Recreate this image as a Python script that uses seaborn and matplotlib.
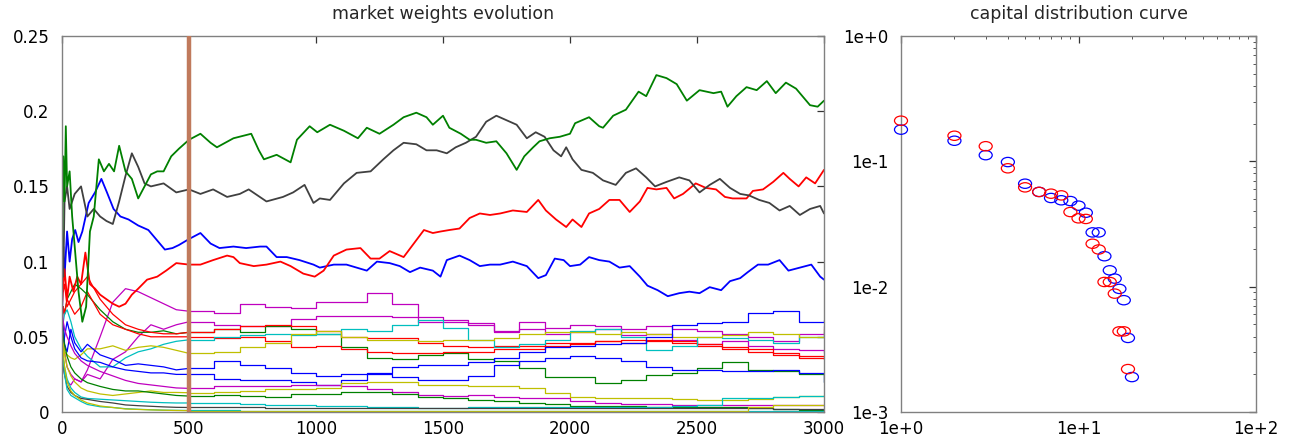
import numpy as np
import pandas as pd
import matplotlib
matplotlib.use("Agg")
import matplotlib.pyplot as plt
import seaborn as sns
from matplotlib.path import Path
from matplotlib.markers import MarkerStyle
from matplotlib.transforms import Affine2D
from matplotlib.ticker import FixedLocator, FixedFormatter, LogLocator, NullFormatter

# ---------------- data ----------------
title_left = "market weights evolution"
title_right = "capital distribution curve"
t_snapshot = 500

x_ticks = [0, 500, 1000, 1500, 2000, 2500, 3000]
x_labels = ["0", "500", "1000", "1500", "2000", "2500", "3000"]
y_ticks = [0, 0.05, 0.1, 0.15, 0.2, 0.25]
y_labels = ["0", "0.05", "0.1", "0.15", "0.2", "0.25"]
log_x_ticks = [1, 10, 100]
log_x_labels = ["1e+0", "1e+1", "1e+2"]
log_y_ticks = [1e-3, 1e-2, 1e-1, 1]
log_y_labels = ["1e-3", "1e-2", "1e-1", "1e+0"]

# four largest stocks (finely sampled)
t_green = [0, 5, 10, 15, 20, 30, 40, 50, 65, 80, 95, 110, 125, 145, 165, 185, 205, 225, 250, 275,
           300, 325, 350, 375, 400, 430, 460, 500, 545, 585, 610, 675, 745, 775, 795, 845, 900, 925, 975, 1005,
           1055, 1110, 1165, 1200, 1250, 1305, 1345, 1395, 1435, 1460, 1500, 1525, 1570, 1605, 1630, 1670, 1710, 1750, 1790, 1820,
           1855, 1880, 1920, 1960, 2000, 2020, 2075, 2115, 2130, 2170, 2220, 2270, 2300, 2340, 2380, 2420, 2460, 2510, 2565, 2595,
           2620, 2655, 2695, 2735, 2775, 2810, 2850, 2890, 2945, 2975, 3000]
w_green = [0.10, 0.17, 0.14, 0.19, 0.15, 0.16, 0.13, 0.11, 0.08, 0.06, 0.07, 0.12, 0.13, 0.168, 0.16, 0.165, 0.16, 0.177, 0.16, 0.155,
           0.142, 0.15, 0.158, 0.16, 0.16, 0.17, 0.175, 0.181, 0.185, 0.179, 0.176, 0.182, 0.185, 0.174, 0.168, 0.171, 0.166, 0.181, 0.19, 0.186,
           0.191, 0.187, 0.182, 0.189, 0.185, 0.191, 0.196, 0.199, 0.196, 0.191, 0.197, 0.189, 0.185, 0.181, 0.181, 0.179, 0.18, 0.172, 0.161, 0.17,
           0.176, 0.18, 0.182, 0.183, 0.185, 0.192, 0.196, 0.19, 0.189, 0.197, 0.201, 0.213, 0.21, 0.224, 0.222, 0.218, 0.207, 0.214, 0.212, 0.213,
           0.203, 0.21, 0.216, 0.214, 0.22, 0.212, 0.219, 0.215, 0.204, 0.203, 0.207]

t_black = [0, 5, 10, 20, 30, 50, 75, 100, 125, 150, 175, 200, 225, 250, 275, 300, 325, 350, 400, 450,
           500, 545, 595, 650, 700, 735, 805, 870, 910, 955, 990, 1015, 1055, 1110, 1160, 1215, 1265, 1305, 1345, 1395,
           1435, 1475, 1515, 1550, 1590, 1630, 1670, 1710, 1750, 1790, 1830, 1865, 1900, 1935, 1965, 1985, 2010, 2045, 2090, 2130,
           2180, 2220, 2260, 2300, 2335, 2380, 2430, 2470, 2510, 2550, 2590, 2630, 2670, 2705, 2745, 2785, 2825, 2865, 2905, 2945,
           2985, 3000]
w_black = [0.10, 0.09, 0.14, 0.15, 0.135, 0.145, 0.15, 0.13, 0.135, 0.13, 0.127, 0.125, 0.14, 0.157, 0.172, 0.163, 0.152, 0.15, 0.152, 0.146,
           0.148, 0.145, 0.148, 0.143, 0.145, 0.148, 0.14, 0.143, 0.146, 0.151, 0.139, 0.142, 0.141, 0.152, 0.159, 0.16, 0.168, 0.174, 0.179, 0.178,
           0.174, 0.174, 0.172, 0.176, 0.179, 0.183, 0.193, 0.197, 0.194, 0.191, 0.182, 0.186, 0.183, 0.174, 0.17, 0.176, 0.168, 0.161, 0.159, 0.154,
           0.151, 0.159, 0.162, 0.156, 0.15, 0.153, 0.156, 0.154, 0.146, 0.151, 0.155, 0.149, 0.145, 0.144, 0.141, 0.139, 0.134, 0.137, 0.131, 0.135,
           0.137, 0.132]

t_red = [0, 5, 10, 20, 30, 45, 60, 75, 92, 110, 130, 150, 175, 200, 225, 250, 275, 300, 335, 375,
         410, 450, 500, 545, 595, 650, 675, 700, 755, 805, 860, 900, 950, 995, 1030, 1070, 1120, 1175, 1215, 1250,
         1290, 1345, 1385, 1425, 1460, 1490, 1525, 1565, 1605, 1645, 1685, 1725, 1775, 1830, 1875, 1905, 1945, 1985, 2010, 2045,
         2075, 2115, 2155, 2195, 2235, 2275, 2305, 2340, 2380, 2410, 2445, 2495, 2535, 2575, 2610, 2640, 2695, 2720, 2760, 2800,
         2840, 2865, 2900, 2930, 2965, 3000]
w_red = [0.07, 0.085, 0.095, 0.075, 0.09, 0.08, 0.09, 0.085, 0.106, 0.085, 0.082, 0.078, 0.075, 0.072, 0.07, 0.072, 0.078, 0.082, 0.088, 0.09,
         0.094, 0.099, 0.098, 0.098, 0.101, 0.104, 0.103, 0.099, 0.097, 0.098, 0.1, 0.097, 0.092, 0.09, 0.094, 0.104, 0.108, 0.109, 0.102, 0.102,
         0.107, 0.103, 0.112, 0.121, 0.119, 0.12, 0.121, 0.122, 0.129, 0.132, 0.131, 0.132, 0.134, 0.133, 0.141, 0.134, 0.128, 0.123, 0.128, 0.123,
         0.132, 0.135, 0.141, 0.141, 0.133, 0.14, 0.149, 0.148, 0.149, 0.142, 0.145, 0.152, 0.149, 0.148, 0.143, 0.142, 0.142, 0.147, 0.148, 0.153,
         0.159, 0.155, 0.15, 0.156, 0.152, 0.161]

t_blue = [0, 5, 10, 20, 30, 40, 52, 65, 80, 105, 130, 155, 177, 203, 230, 262, 300, 340, 380, 405,
          435, 460, 490, 500, 545, 585, 620, 675, 725, 780, 805, 845, 885, 935, 990, 1015, 1070, 1120, 1160, 1200,
          1240, 1290, 1330, 1370, 1410, 1460, 1490, 1515, 1565, 1605, 1645, 1685, 1725, 1775, 1830, 1875, 1905, 1940, 1975, 2000,
          2040, 2075, 2115, 2155, 2195, 2235, 2275, 2305, 2345, 2385, 2430, 2470, 2510, 2550, 2595, 2630, 2670, 2700, 2740, 2780,
          2825, 2860, 2905, 2950, 2985, 3000]
w_blue = [0.06, 0.11, 0.09, 0.12, 0.1, 0.115, 0.121, 0.113, 0.12, 0.139, 0.146, 0.155, 0.146, 0.135, 0.13, 0.128, 0.124, 0.121, 0.113, 0.108,
          0.109, 0.111, 0.114, 0.115, 0.119, 0.112, 0.109, 0.11, 0.109, 0.11, 0.11, 0.103, 0.103, 0.101, 0.098, 0.096, 0.098, 0.098, 0.096, 0.094,
          0.1, 0.099, 0.097, 0.093, 0.096, 0.094, 0.09, 0.101, 0.104, 0.101, 0.097, 0.098, 0.098, 0.1, 0.097, 0.089, 0.091, 0.102, 0.101, 0.097,
          0.098, 0.103, 0.101, 0.1, 0.096, 0.097, 0.09, 0.084, 0.081, 0.077, 0.079, 0.08, 0.079, 0.083, 0.081, 0.087, 0.089, 0.093, 0.098, 0.098,
          0.101, 0.094, 0.096, 0.098, 0.09, 0.088]

# sixteen smaller stocks, read on a coarser grid
t_low = [0, 5, 10, 20, 35, 50, 75, 100, 150, 200, 250, 300, 350, 400, 450, 500,
         600, 700, 800, 900, 1000, 1100, 1200, 1300, 1400, 1500, 1600, 1700, 1800, 1900,
         2000, 2100, 2200, 2300, 2400, 2500, 2600, 2700, 2800, 2900, 3000]
w_mag1 = [0.04, 0.03, 0.025, 0.02, 0.018, 0.022, 0.02, 0.028, 0.05, 0.073, 0.082, 0.08, 0.076, 0.072, 0.068, 0.067,
          0.066, 0.072, 0.070, 0.069, 0.073, 0.073, 0.079, 0.072, 0.063, 0.061, 0.059, 0.054, 0.060, 0.056, 0.058, 0.057, 0.055, 0.057, 0.055, 0.054, 0.052, 0.050, 0.047, 0.052, 0.057]
w_mag2 = [0.06, 0.05, 0.04, 0.03, 0.025, 0.022, 0.02, 0.025, 0.022, 0.035, 0.04, 0.05, 0.058, 0.055, 0.058, 0.060,
          0.058, 0.057, 0.057, 0.062, 0.064, 0.064, 0.064, 0.063, 0.060, 0.060, 0.058, 0.053, 0.055, 0.052, 0.053, 0.055, 0.051, 0.052, 0.048, 0.045, 0.047, 0.044, 0.042, 0.041, 0.039]
w_grn2 = [0.06, 0.07, 0.065, 0.075, 0.08, 0.085, 0.082, 0.078, 0.068, 0.06, 0.055, 0.053, 0.053, 0.054, 0.052, 0.053,
          0.055, 0.053, 0.057, 0.055, 0.052, 0.043, 0.036, 0.035, 0.038, 0.039, 0.035, 0.034, 0.029, 0.0235, 0.0235, 0.019, 0.021, 0.0245, 0.026, 0.029, 0.0335, 0.028, 0.027, 0.025, 0.020]
w_red2 = [0.09, 0.08, 0.085, 0.07, 0.075, 0.08, 0.085, 0.09, 0.075, 0.065, 0.058, 0.055, 0.053, 0.052, 0.052, 0.053,
          0.055, 0.057, 0.058, 0.057, 0.054, 0.050, 0.049, 0.049, 0.046, 0.044, 0.043, 0.044, 0.044, 0.046, 0.045, 0.047, 0.048, 0.047, 0.047, 0.044, 0.042, 0.040, 0.039, 0.037, 0.035]
w_red3 = [0.06, 0.07, 0.065, 0.075, 0.07, 0.065, 0.07, 0.08, 0.065, 0.058, 0.055, 0.052, 0.05, 0.05, 0.05, 0.050,
          0.049, 0.050, 0.047, 0.043, 0.044, 0.042, 0.040, 0.039, 0.039, 0.040, 0.040, 0.042, 0.042, 0.044, 0.046, 0.047, 0.046, 0.048, 0.046, 0.045, 0.043, 0.042, 0.038, 0.036, 0.035]
w_cyan1 = [0.05, 0.06, 0.065, 0.068, 0.06, 0.05, 0.042, 0.037, 0.03, 0.03, 0.036, 0.04, 0.042, 0.045, 0.047, 0.048,
           0.050, 0.051, 0.052, 0.051, 0.052, 0.055, 0.054, 0.058, 0.061, 0.056, 0.048, 0.043, 0.045, 0.048, 0.054, 0.055, 0.050, 0.041, 0.044, 0.050, 0.049, 0.048, 0.046, 0.050, 0.053]
w_yel1 = [0.05, 0.045, 0.04, 0.038, 0.036, 0.035, 0.038, 0.042, 0.042, 0.044, 0.041, 0.043, 0.044, 0.043, 0.041, 0.039,
          0.040, 0.043, 0.046, 0.052, 0.054, 0.050, 0.048, 0.048, 0.047, 0.048, 0.048, 0.049, 0.052, 0.053, 0.053, 0.052, 0.053, 0.052, 0.050, 0.050, 0.051, 0.053, 0.052, 0.050, 0.055]
w_blue2 = [0.05, 0.06, 0.045, 0.04, 0.055, 0.046, 0.04, 0.045, 0.038, 0.035, 0.031, 0.032, 0.031, 0.03, 0.028, 0.029,
           0.034, 0.031, 0.029, 0.026, 0.024, 0.025, 0.026, 0.030, 0.031, 0.031, 0.033, 0.036, 0.040, 0.043, 0.044, 0.045, 0.046, 0.050, 0.058, 0.059, 0.060, 0.066, 0.067, 0.060, 0.061]
w_blue3 = [0.03, 0.045, 0.05, 0.06, 0.05, 0.042, 0.036, 0.034, 0.033, 0.03, 0.028, 0.027, 0.026, 0.026, 0.025, 0.025,
           0.022, 0.021, 0.021, 0.020, 0.018, 0.021, 0.025, 0.023, 0.021, 0.021, 0.024, 0.031, 0.034, 0.036, 0.037, 0.036, 0.034, 0.030, 0.028, 0.028, 0.027, 0.027, 0.028, 0.026, 0.020]
w_mag3 = [0.07, 0.06, 0.055, 0.05, 0.044, 0.039, 0.034, 0.031, 0.027, 0.024, 0.021, 0.019, 0.018, 0.017, 0.016, 0.0157,
          0.017, 0.017, 0.017, 0.018, 0.018, 0.017, 0.015, 0.013, 0.011, 0.0105, 0.011, 0.010, 0.009, 0.009, 0.007, 0.006, 0.005, 0.005, 0.0045, 0.0045, 0.0045, 0.0044, 0.0044, 0.0044, 0.0044]
w_yel2 = [0.05, 0.045, 0.039, 0.03, 0.024, 0.02, 0.016, 0.014, 0.012, 0.011, 0.012, 0.013, 0.014, 0.013, 0.013, 0.0128,
          0.013, 0.014, 0.015, 0.015, 0.016, 0.019, 0.020, 0.020, 0.018, 0.018, 0.017, 0.017, 0.016, 0.0125, 0.010, 0.0095, 0.009, 0.009, 0.0085, 0.008, 0.008, 0.0085, 0.010, 0.0105, 0.0113]
w_grn3 = [0.06, 0.05, 0.045, 0.037, 0.03, 0.026, 0.022, 0.0195, 0.017, 0.015, 0.014, 0.014, 0.013, 0.012, 0.011, 0.0106,
          0.011, 0.0105, 0.010, 0.012, 0.012, 0.013, 0.013, 0.012, 0.010, 0.009, 0.008, 0.007, 0.006, 0.005, 0.004, 0.004, 0.004, 0.0035, 0.003, 0.003, 0.003, 0.0025, 0.002, 0.0015, 0.0013]
w_cyan2 = [0.04, 0.035, 0.03, 0.022, 0.016, 0.013, 0.01, 0.009, 0.0085, 0.008, 0.0075, 0.007, 0.0065, 0.0062, 0.006, 0.006,
           0.0058, 0.005, 0.0047, 0.0045, 0.004, 0.004, 0.0035, 0.003, 0.0028, 0.0028, 0.003, 0.003, 0.003, 0.0033, 0.0035, 0.0035, 0.0035, 0.0035, 0.004, 0.0045, 0.009, 0.0095, 0.010, 0.0105, 0.0106]
w_gray2 = [0.035, 0.03, 0.025, 0.017, 0.013, 0.011, 0.009, 0.0084, 0.007, 0.006, 0.0047, 0.0042, 0.0038, 0.0034, 0.0031, 0.003,
           0.003, 0.003, 0.0029, 0.0029, 0.0028, 0.0028, 0.0028, 0.0027, 0.0027, 0.0027, 0.0026, 0.0026, 0.0026, 0.0026, 0.0025, 0.0025, 0.0025, 0.0025, 0.0024, 0.0024, 0.0024, 0.0024, 0.0023, 0.0023, 0.0022]
w_cyan3 = [0.045, 0.035, 0.025, 0.015, 0.011, 0.0095, 0.007, 0.005, 0.0035, 0.003, 0.0022, 0.0018, 0.0015, 0.0012, 0.0011, 0.001,
           0.001, 0.0009, 0.0009, 0.0008, 0.0008, 0.0008, 0.0007, 0.0007, 0.0007, 0.0006, 0.0006, 0.0006, 0.0006, 0.0005, 0.0005, 0.0005, 0.0005, 0.0005, 0.0004, 0.0004, 0.0004, 0.0004, 0.0004, 0.0004, 0.0004]
w_yel3 = [0.05, 0.04, 0.03, 0.02, 0.014, 0.011, 0.008, 0.006, 0.004, 0.003, 0.002, 0.0017, 0.0014, 0.0012, 0.001, 0.0009,
          0.0009, 0.0008, 0.0008, 0.0008, 0.0007, 0.0007, 0.0007, 0.0006, 0.0006, 0.0006, 0.0006, 0.0005, 0.0005, 0.0005, 0.0005, 0.0005, 0.0005, 0.0005, 0.0005, 0.0005, 0.0005, 0.003, 0.0044, 0.0044, 0.0044]

# capital distribution: ranked weights at t=500 (blue) and t=3000 (red)
rank_500 = list(range(1, 21))
cap_500 = [0.179, 0.146, 0.112, 0.0987, 0.0663, 0.057, 0.051, 0.0489, 0.0482, 0.0443,
           0.0389, 0.0271, 0.0271, 0.0175, 0.0135, 0.0116, 0.0096, 0.0078, 0.0039, 0.0019]
rank_3000 = list(range(1, 20))
cap_3000 = [0.211, 0.160, 0.132, 0.088, 0.062, 0.057, 0.0552, 0.0535, 0.0394, 0.0351,
            0.0347, 0.022, 0.0198, 0.0109, 0.0109, 0.0088, 0.0044, 0.0044, 0.0022]

# ---------------- style ----------------
C_BLUE, C_GREEN, C_RED = "#0000ff", "#008000", "#ff0000"
C_CYAN, C_MAG, C_YEL, C_GRAY = "#00bfbf", "#bf00bf", "#bfbf00", "#404040"

sns.set_theme(style="white")
plt.rcParams["font.family"] = ["DejaVu Sans"]

fig = plt.figure(figsize=(13.06, 4.44), dpi=100)
W, H = 1306, 444
ax1 = fig.add_axes([62 / W, 32 / H, 762 / W, 376 / H])
ax2 = fig.add_axes([901 / W, 32 / H, 355 / W, 376 / H])

low_series = [
    (w_mag1, C_MAG), (w_mag2, C_MAG), (w_grn2, C_GREEN), (w_red2, C_RED), (w_red3, C_RED),
    (w_cyan1, C_CYAN), (w_yel1, C_YEL), (w_blue2, C_BLUE), (w_blue3, C_BLUE), (w_mag3, C_MAG),
    (w_yel2, C_YEL), (w_grn3, C_GREEN), (w_cyan2, C_CYAN), (w_gray2, C_GRAY), (w_cyan3, C_CYAN),
    (w_yel3, C_YEL),
]
n_early = t_low.index(t_snapshot) + 1
for vals, col in low_series:
    assert len(vals) == len(t_low)
    sns.lineplot(x=t_low[:n_early], y=vals[:n_early], ax=ax1, color=col, lw=0.9,
                 estimator=None, sort=False)
    sns.lineplot(x=t_low[n_early - 1:], y=vals[n_early - 1:], ax=ax1, color=col, lw=0.9,
                 estimator=None, sort=False, drawstyle="steps-post")

main_series = [(t_blue, w_blue, C_BLUE), (t_red, w_red, C_RED),
               (t_black, w_black, C_GRAY), (t_green, w_green, C_GREEN)]
for tt, vals, col in main_series:
    assert len(tt) == len(vals)
    sns.lineplot(x=tt, y=vals, ax=ax1, color=col, lw=1.3, estimator=None, sort=False)

ax1.axvline(t_snapshot, color="#c07a5c", lw=3.2, zorder=5)

ax1.set_xlim(x_ticks[0], x_ticks[-1])
ax1.set_ylim(y_ticks[0], y_ticks[-1])
ax1.xaxis.set_major_locator(FixedLocator(x_ticks))
ax1.xaxis.set_major_formatter(FixedFormatter(x_labels))
ax1.yaxis.set_major_locator(FixedLocator(y_ticks))
ax1.yaxis.set_major_formatter(FixedFormatter(y_labels))
ax1.set_xlabel("")
ax1.set_ylabel("")
ax1.set_title(title_left, fontsize=12.5, pad=12)

# right panel
ell = Path.unit_circle().transformed(Affine2D().scale(1.4, 1.0))
marker = MarkerStyle(ell)
sns.scatterplot(x=rank_500, y=cap_500, ax=ax2, marker=marker, s=88, color=C_BLUE,
                facecolor="none", edgecolor=C_BLUE, linewidth=0.9, clip_on=False, zorder=3)
sns.scatterplot(x=rank_3000, y=cap_3000, ax=ax2, marker=marker, s=88, color=C_RED,
                facecolor="none", edgecolor=C_RED, linewidth=0.9, clip_on=False, zorder=4)
ax2.set_xscale("log")
ax2.set_yscale("log")
ax2.set_xlim(log_x_ticks[0], log_x_ticks[-1])
ax2.set_ylim(log_y_ticks[0], log_y_ticks[-1])
ax2.xaxis.set_major_locator(FixedLocator(log_x_ticks))
ax2.xaxis.set_major_formatter(FixedFormatter(log_x_labels))
ax2.yaxis.set_major_locator(FixedLocator(log_y_ticks))
ax2.yaxis.set_major_formatter(FixedFormatter(log_y_labels))
ax2.xaxis.set_minor_locator(LogLocator(base=10, subs=range(2, 10)))
ax2.yaxis.set_minor_locator(LogLocator(base=10, subs=range(2, 10)))
ax2.xaxis.set_minor_formatter(NullFormatter())
ax2.yaxis.set_minor_formatter(NullFormatter())
ax2.set_xlabel("")
ax2.set_ylabel("")
ax2.set_title(title_right, fontsize=12.5, pad=12)

for ax in (ax1, ax2):
    for sp in ax.spines.values():
        sp.set_color("#808080")
        sp.set_linewidth(1.0)
    ax.tick_params(axis="both", which="major", direction="in", top=True, right=True,
                   length=5, width=0.9, color="#333333", labelsize=12, labelcolor="black")
    ax.tick_params(axis="both", which="minor", direction="in", top=True, right=True,
                   length=2.5, width=0.7, color="#555555")
    ax.tick_params(axis="x", which="major", pad=6)
    ax.tick_params(axis="y", which="major", pad=9)

fig.savefig("out.png", dpi=100)
